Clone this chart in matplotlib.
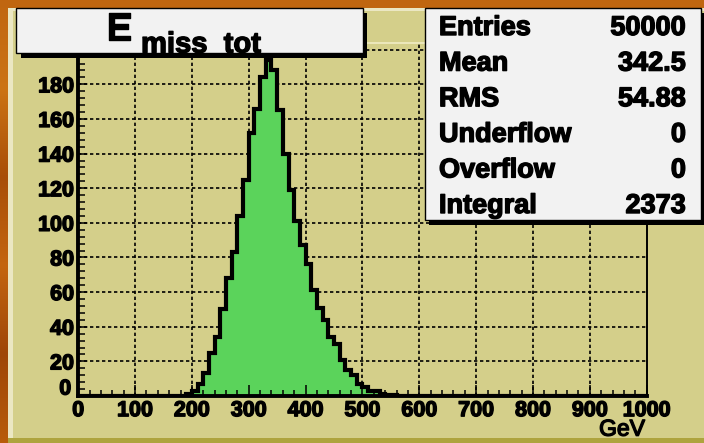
import numpy as np
import matplotlib.pyplot as plt
import matplotlib.patheffects as pe
from matplotlib.patches import Rectangle
from matplotlib.colors import LinearSegmentedColormap
from matplotlib.ticker import MultipleLocator, FuncFormatter

plt.rcParams['font.family'] = ['Liberation Sans', 'DejaVu Sans']
plt.rcParams['font.weight'] = 'bold'

# E_miss_tot histogram: 100 bins of 10 GeV from 0 to 1000, non-empty part starts at 190 GeV
first_bin = 190
counts = [1, 3, 7, 13, 25, 34, 50, 68, 83, 104, 125, 152, 166, 184, 194, 188,
          165, 140, 119, 101, 87, 76, 61, 51, 44, 34, 30, 21, 15, 12, 7, 5, 3,
          3, 1, 0.5, 0.5]
edges = np.arange(0, 1001, 10)

stat_names = ['Entries', 'Mean', 'RMS', 'Underflow', 'Overflow', 'Integral']
stat_values = ['50000', '342.5', '54.88', '0', '0', f'{sum(counts):.0f}']

x_ticks = list(range(0, 1001, 100))
y_ticks = list(range(0, 201, 20))

values = np.zeros(len(edges) - 1)
i0 = first_bin // 10
values[i0:i0 + len(counts)] = counts

# heavier glyphs, like the ROOT bold font
heavy = [pe.withStroke(linewidth=1.0, foreground='black')]

W, H = 704, 443
fig = plt.figure(figsize=(W / 100, H / 100), dpi=100)

# canvas background and pad, in pixel units
bg = fig.add_axes([0, 0, 1, 1], zorder=0)
bg.set_xlim(0, W)
bg.set_ylim(H, 0)
bg.set_axis_off()
orange = LinearSegmentedColormap.from_list(
    'bgorange', ['#c06610', '#cc7414', '#a84e08', '#c46610', '#9e4608', '#b85c0a'])
grad = np.linspace(0, 1, 256).reshape(-1, 1)
bg.imshow(grad, cmap=orange, extent=(0, W, H, 0), aspect='auto', interpolation='bilinear')
pad = '#d4cf8a'
bg.add_patch(Rectangle((8, 8), W - 8, 430, fc=pad, ec='none'))
bg.add_patch(Rectangle((8, 8), W - 8, 3, fc='#ebe7c3', ec='none'))
bg.add_patch(Rectangle((8, 8), 5, 430, fc='#ebe7c3', ec='none'))
bg.add_patch(Rectangle((8, 438), W - 8, 5, fc='#aea43e', ec='none'))

# frame
x0, x1, ytop, ybot = 78.2, 646.7, 43.3, 396.0
ax = fig.add_axes([x0 / W, (H - ybot) / H, (x1 - x0) / W, (ybot - ytop) / H], zorder=1)
ax.set_facecolor('none')
ax.set_xlim(0, 1000)
ax.set_ylim(0, max(counts) * 1.05)

grid_style = dict(color='black', lw=1.2, ls=(0, (2.0, 1.6)), zorder=0.5)
for v in x_ticks[1:-1]:
    ax.axvline(v, **grid_style)
for v in y_ticks[1:]:
    ax.axhline(v, **grid_style)

ax.stairs(values, edges, fill=True, facecolor='#5bd35b', edgecolor='none', zorder=1)
ax.stairs(values, edges, color='black', lw=3.0, zorder=1.2)

ax.xaxis.set_major_locator(MultipleLocator(100))
ax.xaxis.set_minor_locator(MultipleLocator(20))
ax.yaxis.set_major_locator(MultipleLocator(20))
ax.yaxis.set_minor_locator(MultipleLocator(4))
# 0 is placed separately below; 200 sits under the title box
ax.yaxis.set_major_formatter(
    FuncFormatter(lambda v, p: '' if v == 0 or v > 190 else f'{v:.0f}'))
ax.tick_params(axis='x', which='major', direction='in', length=8, width=1.1,
               labelsize=15.5, pad=3)
ax.tick_params(axis='x', which='minor', direction='in', length=4, width=1.1)
ax.tick_params(axis='y', which='major', direction='in', length=6.5, width=1.1,
               labelsize=15.5, pad=3)
ax.tick_params(axis='y', which='minor', direction='in', length=5, width=1.1)
plt.setp(ax.get_xticklabels() + ax.get_yticklabels(), path_effects=heavy)
ax.annotate('0', xy=(0, 0), xycoords=('axes fraction', 'data'), xytext=(-5, 5),
            textcoords='offset points', ha='right', va='center', fontsize=15.5,
            path_effects=heavy)

for side in ('left', 'bottom'):
    ax.spines[side].set_linewidth(2.8)
ax.spines['right'].set_linewidth(1.4)
ax.spines['top'].set_color('#f0ecc4')
ax.spines['top'].set_linewidth(1.2)

ax.set_xlabel('GeV', fontsize=16.5, loc='right', va='center', path_effects=heavy)
ax.xaxis.set_label_coords(0.997, -0.094)

# title and statistics boxes drawn over the frame
ov = fig.add_axes([0, 0, 1, 1], zorder=3)
ov.set_xlim(0, W)
ov.set_ylim(H, 0)
ov.set_axis_off()

ov.add_patch(Rectangle((21, 13), 345.7, 45.3, fc='black', ec='none'))
ov.add_patch(Rectangle((15.7, 8.3), 347, 45, fc='#f2f2f2', ec='black', lw=1))
ov.text(106, 40, 'E', fontsize=28, ha='left', va='baseline', path_effects=heavy)
ov.text(141, 52.5, 'miss_tot', fontsize=21, ha='left', va='baseline', path_effects=heavy)

ov.add_patch(Rectangle((429, 13), 290, 212, fc='black', ec='none'))
ov.add_patch(Rectangle((425, 8.3), 275.5, 211.7, fc='#f2f2f2', ec='black', lw=1))
for i, (name, val) in enumerate(zip(stat_names, stat_values)):
    yb = 35 + 35.6 * i
    ov.text(439, yb, name, fontsize=19.5, ha='left', va='baseline', path_effects=heavy)
    ov.text(686, yb, val, fontsize=19.5, ha='right', va='baseline', path_effects=heavy)

fig.savefig('out.png', dpi=100)
